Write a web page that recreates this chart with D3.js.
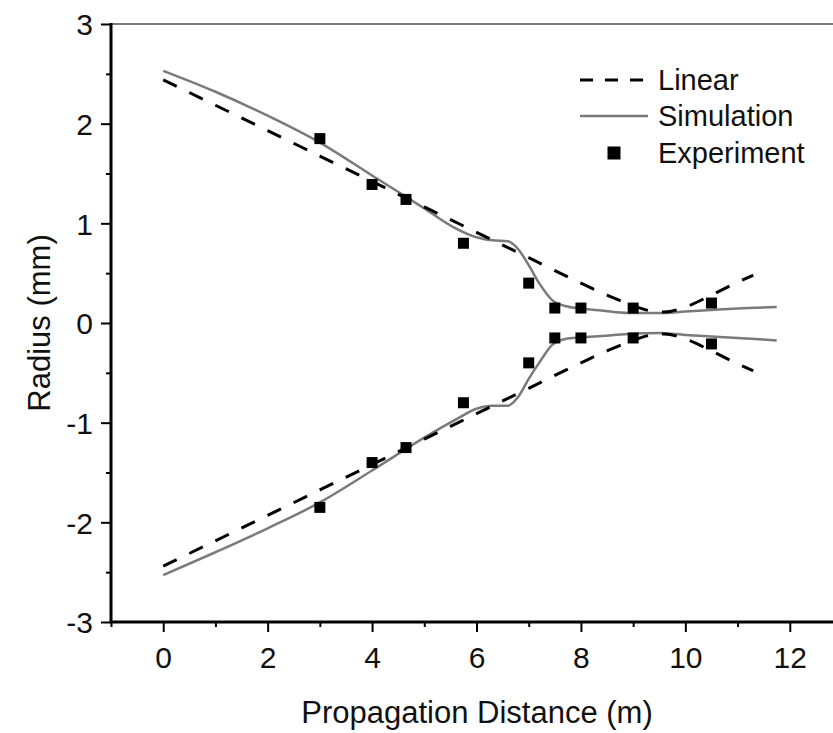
<!DOCTYPE html>
<html>
<head>
<meta charset="utf-8">
<script src="https://cdn.jsdelivr.net/npm/d3@7"></script>
<style>
  html, body { margin: 0; padding: 0; background: #fff; }
  svg { display: block; font-family: "Liberation Sans", Arial, sans-serif; }
</style>
</head>
<body>
<svg id="chart" width="833" height="733"></svg>
<script>
// Beam radius along the propagation path: linear model, simulation and measured points.
const linearX = [0, 1, 2, 3, 4, 5, 6, 7, 8, 8.5, 9, 9.3, 9.6, 10, 10.5, 11, 11.3];
const linearUpper = [2.44, 2.185, 1.93, 1.675, 1.42, 1.165, 0.91, 0.655, 0.40, 0.28, 0.175, 0.125, 0.11, 0.16, 0.28, 0.41, 0.48];
const linearLower = [-2.44, -2.185, -1.93, -1.675, -1.42, -1.165, -0.91, -0.655, -0.40, -0.28, -0.175, -0.125, -0.11, -0.16, -0.28, -0.41, -0.48];

const simX = [0, 1, 2, 3, 4, 5, 5.6, 6.0, 6.3, 6.6, 6.8, 7.0, 7.2, 7.45, 7.7, 8.0, 8.4, 8.9, 9.5, 10.0, 10.5, 11.0, 11.75];
const simUpper = [2.53, 2.32, 2.08, 1.81, 1.48, 1.15, 0.95, 0.86, 0.83, 0.82, 0.74, 0.58, 0.40, 0.23, 0.17, 0.145, 0.125, 0.10, 0.10, 0.115, 0.13, 0.145, 0.16];
const simLower = [-2.53, -2.30, -2.06, -1.80, -1.48, -1.15, -0.97, -0.86, -0.83, -0.83, -0.74, -0.56, -0.40, -0.22, -0.16, -0.145, -0.13, -0.11, -0.10, -0.12, -0.135, -0.15, -0.175];

const expX = [3, 4, 4.65, 5.75, 7, 7.5, 8, 9, 10.5];
const expUpper = [1.85, 1.39, 1.24, 0.80, 0.40, 0.15, 0.15, 0.15, 0.20];
const expLower = [-1.85, -1.40, -1.25, -0.80, -0.40, -0.15, -0.15, -0.15, -0.21];

const xMajor = [0, 2, 4, 6, 8, 10, 12];
const xMinor = [-1, 1, 3, 5, 7, 9, 11, 13];
const yMajor = [-3, -2, -1, 0, 1, 2, 3];
const yMinor = [-2.5, -1.5, -0.5, 0.5, 1.5, 2.5];

const legendLabels = ["Linear", "Simulation", "Experiment"];

const svg = d3.select("#chart");
const plotLeft = 111, plotTop = 24, plotBottom = 622, plotRight = 842;

const x = d3.scaleLinear().domain([-1, 13]).range([plotLeft, plotRight]);
const y = d3.scaleLinear().domain([-3, 3]).range([plotBottom, plotTop]);
const plainNum = d => String(d);

// Frame: gray top edge
svg.append("line")
  .attr("x1", plotLeft).attr("x2", plotRight)
  .attr("y1", plotTop).attr("y2", plotTop)
  .attr("stroke", "#7a7a7a").attr("stroke-width", 2);

// X axis: minor then major ticks
const gxMin = svg.append("g").attr("transform", `translate(0,${plotBottom})`)
  .call(d3.axisBottom(x).tickValues(xMinor).tickSize(5).tickFormat(""));
gxMin.select(".domain").remove();
const gxMaj = svg.append("g").attr("transform", `translate(0,${plotBottom})`)
  .call(d3.axisBottom(x).tickValues(xMajor).tickSize(10).tickFormat(plainNum));
gxMaj.select(".domain").remove();
gxMaj.selectAll("text").attr("font-size", 30).attr("fill", "#111")
  .attr("dy", null).attr("y", 46);

// Y axis: minor then major ticks
const gyMin = svg.append("g").attr("transform", `translate(${plotLeft},0)`)
  .call(d3.axisLeft(y).tickValues(yMinor).tickSize(5).tickFormat(""));
gyMin.select(".domain").remove();
const gyMaj = svg.append("g").attr("transform", `translate(${plotLeft},0)`)
  .call(d3.axisLeft(y).tickValues(yMajor).tickSize(10).tickPadding(8).tickFormat(plainNum));
gyMaj.select(".domain").remove();
gyMaj.selectAll("text").attr("font-size", 30).attr("fill", "#111").attr("dy", "0.36em");
svg.selectAll(".tick line").attr("stroke", "#000").attr("stroke-width", 2);

// Axis lines
svg.append("line").attr("x1", plotLeft).attr("x2", plotLeft).attr("y1", plotTop - 1).attr("y2", plotBottom + 1)
  .attr("stroke", "#000").attr("stroke-width", 3);
svg.append("line").attr("x1", plotLeft - 1).attr("x2", plotRight).attr("y1", plotBottom).attr("y2", plotBottom)
  .attr("stroke", "#000").attr("stroke-width", 3);

// Axis titles
svg.append("text").attr("x", 477).attr("y", 723).attr("text-anchor", "middle")
  .attr("font-size", 31).attr("fill", "#111").text("Propagation Distance (m)");
svg.append("text").attr("transform", `translate(50,${y(0)}) rotate(-90)`).attr("text-anchor", "middle")
  .attr("font-size", 31).attr("fill", "#111").text("Radius (mm)");

// Curves
const line = d3.line().x(d => x(d[0])).y(d => y(d[1])).curve(d3.curveMonotoneX);
const plot = svg.append("g");

[simUpper, simLower].forEach(vals => {
  plot.append("path").datum(simX.map((v, i) => [v, vals[i]]))
    .attr("d", line).attr("fill", "none")
    .attr("stroke", "#7a7a7a").attr("stroke-width", 2.5);
});
[linearUpper, linearLower].forEach(vals => {
  plot.append("path").datum(linearX.map((v, i) => [v, vals[i]]))
    .attr("d", line).attr("fill", "none")
    .attr("stroke", "#000").attr("stroke-width", 3)
    .attr("stroke-dasharray", "15,14");
});

// Measured points
const sq = 11;
[expUpper, expLower].forEach(vals => {
  plot.selectAll(null).data(expX.map((v, i) => [v, vals[i]])).enter()
    .append("rect")
    .attr("x", d => x(d[0]) - sq / 2).attr("y", d => y(d[1]) - sq / 2)
    .attr("width", sq).attr("height", sq).attr("fill", "#000");
});

// Legend
const lg = svg.append("g");
const lx0 = 580, lx1 = 648, tx = 658;
const rows = [80, 116, 153];
lg.append("line").attr("x1", lx0).attr("x2", lx1).attr("y1", rows[0]).attr("y2", rows[0])
  .attr("stroke", "#000").attr("stroke-width", 3).attr("stroke-dasharray", "13,12");
lg.append("line").attr("x1", lx0).attr("x2", lx1).attr("y1", rows[1]).attr("y2", rows[1])
  .attr("stroke", "#7a7a7a").attr("stroke-width", 2.5);
lg.append("rect").attr("x", 614 - 6.5).attr("y", rows[2] - 6.5).attr("width", 13).attr("height", 13)
  .attr("fill", "#000");
legendLabels.forEach((t, i) => {
  lg.append("text").attr("x", tx).attr("y", rows[i] + 10).attr("font-size", 29)
    .attr("fill", "#111").text(t);
});
</script>
</body>
</html>
